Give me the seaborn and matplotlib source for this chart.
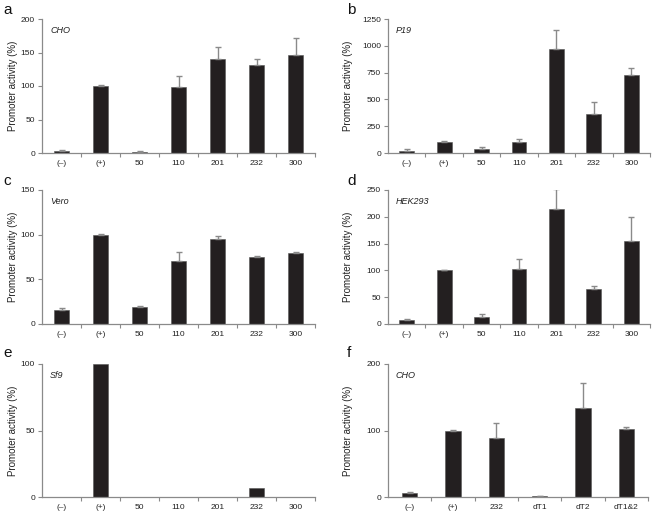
import numpy as np
import pandas as pd
import matplotlib
matplotlib.use("Agg")
import matplotlib.pyplot as plt
import seaborn as sns

sns.set_style("ticks")
plt.rcParams["font.family"] = ["Liberation Sans", "DejaVu Sans"]

cats7 = ["(\u2013)", "(+)", "50", "110", "201", "232", "300"]
cats6 = ["(\u2013)", "(+)", "232", "dT1", "dT2", "dT1&2"]

cho_val = [3, 100, 2, 98, 140, 132, 146]
cho_err = [1, 1.5, 1, 17, 18, 9, 26]
p19_val = [22, 105, 37, 105, 968, 363, 726]
p19_err = [15, 10, 22, 28, 183, 115, 65]
vero_val = [16, 99.5, 18.5, 70, 95, 75, 79]
vero_err = [2, 1, 1.5, 10.5, 3, 1, 2]
hek_val = [7.5, 100, 13, 103, 214, 65, 154]
hek_err = [2, 1.5, 5, 19, 37, 6, 46]
sf9_val = [0, 100, 0, 0, 0, 7, 0]
sf9_err = [0, 0, 0, 0, 0, 0, 0]
cho2_val = [6.5, 100, 89, 1, 134, 102.5]
cho2_err = [1, 1, 23, 0.5, 37, 2.5]

BAR = "#231f20"
GREY = "#8a8a8a"

panels = [
    ("a", "CHO", cats7, cho_val, cho_err, [0, 50, 100, 150, 200], 0),
    ("b", "P19", cats7, p19_val, p19_err, [0, 250, 500, 750, 1000, 1250], 1),
    ("c", "Vero", cats7, vero_val, vero_err, [0, 50, 100, 150], 2),
    ("d", "HEK293", cats7, hek_val, hek_err, [0, 50, 100, 150, 200, 250], 3),
    ("e", "Sf9", cats7, sf9_val, sf9_err, [0, 50, 100], 4),
    ("f", "CHO", cats6, cho2_val, cho2_err, [0, 100, 200], 5),
]

W, H = 661, 513
fig = plt.figure(figsize=(W / 100, H / 100), dpi=100)

# axes boxes in pixels: left, top, right, bottom
boxes = [
    (42, 19, 315, 153), (388, 19, 650, 153),
    (42, 190, 315, 324), (388, 190, 650, 324),
    (42, 364, 315, 497), (388, 364, 648, 497),
]
letter_pos = [(3, 3), (347, 3), (3, 174), (347, 174), (3, 346), (347, 346)]

for letter, cell, cats, vals, errs, yticks, i in panels:
    l, t, r, b = boxes[i]
    ax = fig.add_axes([l / W, 1 - b / H, (r - l) / W, (b - t) / H])
    df = pd.DataFrame({"cat": cats, "val": vals})
    n = len(cats)
    width = 0.4 if n == 7 else 0.35
    sns.barplot(data=df, x="cat", y="val", color=BAR, width=width,
                edgecolor="#555555", linewidth=0.4, saturation=1, ax=ax)
    if any(e > 0 for e in errs):
        ax.errorbar(np.arange(n), vals, yerr=[np.zeros(n), errs], fmt="none",
                    ecolor=GREY, elinewidth=1.0, capsize=2.5, capthick=1.0, zorder=1)
    ax.set_xlim(-0.5, n - 0.5)
    ax.set_ylim(yticks[0], yticks[-1])
    ax.set_yticks(yticks)
    ax.set_xticks(np.arange(n))
    ax.set_xticklabels(cats)
    ax.set_xticks(np.arange(n) + 0.5, minor=True)
    ax.tick_params(axis="x", which="major", length=0, labelsize=6, pad=5, labelcolor="#222222")
    ax.tick_params(axis="x", which="minor", length=3, width=0.8, color=GREY, direction="out")
    ax.tick_params(axis="y", length=3, width=0.8, color=GREY, labelsize=6, pad=2, labelcolor="#222222")
    sns.despine(ax=ax)
    for s in ("left", "bottom"):
        ax.spines[s].set_color(GREY)
        ax.spines[s].set_linewidth(0.9)
    ax.set_xlabel("")
    ax.set_ylabel("Promoter activity (%)", fontsize=7, color="#222222")
    if i % 2 == 0:
        ax.yaxis.set_label_coords(-0.088, 0.5)
    else:
        ax.yaxis.set_label_coords(-0.134, 0.5)
    ax.text(0.03, 0.95, cell, transform=ax.transAxes, ha="left", va="top",
            fontsize=6.5, style="italic", color="#222222")
    lx, ly = letter_pos[i]
    fig.text(lx / W, 1 - ly / H, letter, ha="left", va="top", fontsize=11, color="#111111")

fig.savefig("out.png", dpi=100)
